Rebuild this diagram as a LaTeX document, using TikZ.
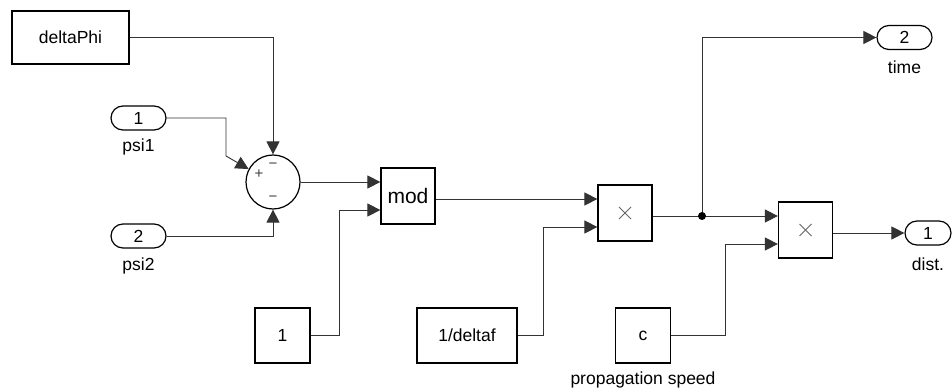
\documentclass[tikz,border=0pt]{standalone}
\usepackage{fontspec}
\setmainfont{Liberation Sans}
\usetikzlibrary{arrows.meta,calc}
\begin{document}
\begin{tikzpicture}[x=1pt,y=-1pt,
  blk/.style={draw=black, line width=1.2pt, fill=white, minimum width=#1, minimum height=55pt, inner sep=0pt, font=\fontsize{17.5}{20}\selectfont},
  blk/.default=55pt,
  port/.style={draw=black, line width=1.2pt, fill=white, rounded corners=12pt, minimum width=55pt, minimum height=24pt, inner sep=0pt, font=\fontsize{17.5}{20}\selectfont},
  lbl/.style={inner sep=0pt, font=\fontsize{17.5}{20}\selectfont},
  sgn/.style={inner sep=0pt, text=black!75, font=\fontsize{15}{15}\selectfont},
  wire/.style={draw=black!80, line width=0.9pt},
  arr/.style={wire, -{Triangle[length=13pt,width=13pt]}},
  crs/.style={draw=black!60, line width=0.8pt}
]
\useasboundingbox (0,0) rectangle (952,390);

% blocks
\node[blk=117pt, minimum height=53pt] (dphi) at (70.5,37.5) {deltaPhi};
\node[port] (psi1) at (138.5,118) {1};
\node[lbl] (psi1l) at (138.5,147) {psi1};
\node[port] (psi2) at (138.5,236) {2};
\node[lbl] (psi2l) at (138.5,266) {psi2};
\node[circle, draw=black, line width=1.2pt, fill=white, minimum size=54pt, inner sep=0pt] (sum) at (273,182) {};
\node[sgn] (sp) at (259,174) {+};
\node[sgn] (sm1) at (273,166) {−};
\node[sgn] (sm2) at (273,199) {−};
\node[blk=54pt, minimum height=56pt, font=\fontsize{21}{24}\selectfont] (mod) at (408,196) {mod};
\node[blk] (one) at (282.5,335.5) {1};
\node[blk=100pt] (invdf) at (467,335.5) {1/deltaf};
\node[blk=54pt, minimum height=56pt] (p1) at (625,213) {};
\node[blk=54pt, minimum height=56pt] (p2) at (805.5,230) {};
\node[blk] (c) at (643,335.5) {c};
\node[lbl] (cl) at (643,380) {propagation speed};
\node[port] (time) at (904.5,37.5) {2};
\node[lbl] (timel) at (904.5,67) {time};
\node[port, minimum width=46pt] (dist) at (928,233) {1};
\node[lbl] (distl) at (928,264) {dist.};

% product crosses
\draw[crs] ([shift={(-6pt,-6pt)}]p1.center) -- ([shift={(6pt,6pt)}]p1.center);
\draw[crs] ([shift={(-6pt,6pt)}]p1.center) -- ([shift={(6pt,-6pt)}]p1.center);
\draw[crs] ([shift={(-6pt,-6pt)}]p2.center) -- ([shift={(6pt,6pt)}]p2.center);
\draw[crs] ([shift={(-6pt,6pt)}]p2.center) -- ([shift={(6pt,-6pt)}]p2.center);

% connectors
\draw[arr] (dphi.east) -| (sum.north);
\draw[arr] (psi1.east) -| (226,156) -- (sum.152);
\draw[arr] (psi2.east) -| (sum.south);
\draw[arr] (sum.east) -- (sum.east -| mod.west);
\draw[arr] (one.east) -- ++(29,0) |- ([yshift=-14pt]mod.west);
\draw[arr] ([yshift=-3pt]mod.east) -- ([yshift=-3pt]mod.east -| p1.west);
\draw[arr] (invdf.east) -- ++(26,0) |- ([yshift=-14pt]p1.west);
\coordinate (j) at ([yshift=-3pt]p1.east -| 702,0);
\draw[wire] ([yshift=-3pt]p1.east) -- (j);
\draw[arr] (j) -- (j -| p2.west);
\draw[arr] (j) |- (time.west);
\fill[black] (j) circle (4pt);
\draw[arr] (c.east) -- ++(54,0) |- ([yshift=-14pt]p2.west);
\draw[arr] ([yshift=-3pt]p2.east) -- ([yshift=-3pt]p2.east -| dist.west);
\end{tikzpicture}
\end{document}
